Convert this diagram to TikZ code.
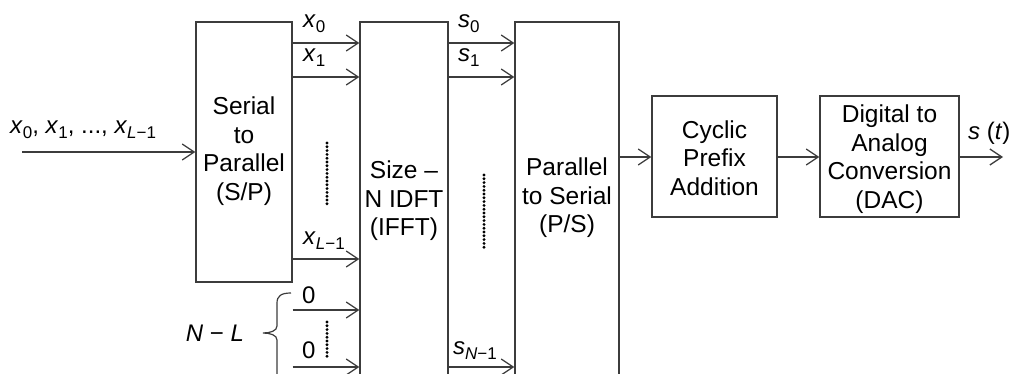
\documentclass[tikz,border=0pt]{standalone}
\usepackage{fontspec}
\setmainfont{Liberation Sans}
\usetikzlibrary{arrows.meta}
\definecolor{lc}{RGB}{60,60,60}
\newcommand{\subsc}[1]{\raisebox{-5pt}{\fontsize{17}{17}\selectfont #1}}
\begin{document}
\begin{tikzpicture}[x=1pt,y=-1pt,
  box/.style={draw=lc, line width=1.3pt, inner sep=0pt},
  txt/.style={font=\fontsize{24.5}{28.5}\selectfont, align=center, text=black, inner sep=0pt},
  lab/.style={font=\fontsize{24}{24}\selectfont, inner sep=0pt, anchor=base west, text=black},
  arr/.style={draw=lc, line width=1.3pt, -{Straight Barb[length=12pt,width=16pt,line width=1.3pt]}},
  dotl/.style={draw=black, line width=3.2pt, line cap=round, dash pattern=on 0pt off 3.8pt}]
\useasboundingbox (0,0) rectangle (1014,374);
\clip (0,0) rectangle (1014,374);
% boxes
\node[box, minimum width=96pt, minimum height=260pt] (sp) at (244,152) {};
\node[box, minimum width=88pt, minimum height=380pt] (idft) at (404,212) {};
\node[box, minimum width=104pt, minimum height=380pt] (ps) at (567,212) {};
\node[box, minimum width=125pt, minimum height=121pt] (cp) at (714.5,156.5) {};
\node[box, minimum width=139pt, minimum height=121pt] (dac) at (889.5,156.5) {};
% box texts
\node[txt] (spt) at (244,151) {Serial\\to\\Parallel\\(S/P)};
\node[txt] (idftt) at (404,201) {Size –\\N IDFT\\(IFFT)};
\node[txt] (pst) at (567,198) {Parallel\\to Serial\\(P/S)};
\node[txt] (cpt) at (714.5,158) {Cyclic\\Prefix\\Addition};
\node[txt] (dact) at (889.5,159) {Digital to\\Analog\\Conversion\\(DAC)};
% free ends
\coordinate (in) at (22,152);
\coordinate (out) at (1003,157);
% arrows
\draw[arr] (in) -- (sp.west |- in);
\draw[arr] (sp.east |- 0,43) -- (idft.west |- 0,43);
\draw[arr] (sp.east |- 0,77) -- (idft.west |- 0,77);
\draw[arr] (sp.east |- 0,259) -- (idft.west |- 0,259);
\draw[arr] (sp.east |- 0,310) -- (idft.west |- 0,310);
\draw[arr] (sp.east |- 0,367) -- (idft.west |- 0,367);
\draw[arr] (idft.east |- 0,43) -- (ps.west |- 0,43);
\draw[arr] (idft.east |- 0,77) -- (ps.west |- 0,77);
\draw[arr] (idft.east |- 0,367) -- (ps.west |- 0,367);
\draw[arr] (ps.east |- 0,157) -- (cp.west |- 0,157);
\draw[arr] (cp.east |- 0,157) -- (dac.west |- 0,157);
\draw[arr] (dac.east |- out) -- (out);
% labels
\node[lab] (inl) at (10,134) {\textit{x}\subsc{0}, \textit{x}\subsc{1}, ..., \textit{x}\subsc{\textit{L}−1}};
\node[lab] (lx0) at (303,28) {\textit{x}\subsc{0}};
\node[lab] (lx1) at (303,62) {\textit{x}\subsc{1}};
\node[lab] (lxl) at (303,244) {\textit{x}\subsc{\textit{L}−1}};
\node[lab] (z0) at (302,303) {0};
\node[lab] (z1) at (302,358) {0};
\node[lab] (ls0) at (458,28) {\textit{s}\subsc{0}};
\node[lab] (ls1) at (458,62) {\textit{s}\subsc{1}};
\node[lab] (lsn) at (453,354) {\textit{s}\subsc{\textit{N}−1}};
\node[lab] (lst) at (968,140) {\textit{s} (\textit{t})};
\node[lab, anchor=center] (nl) at (215,333) {\textit{N} − \textit{L}};
% dotted lines
\draw[dotl] (327,143) -- (327,207);
\draw[dotl] (327,322) -- (327,358);
\draw[dotl] (484,175) -- (484,250);
% brace
\draw[lc, line width=1.2pt] (291,293) .. controls (281,293) and (277,296) .. (277,303) -- (277,326) .. controls (277,331) and (270,333) .. (263,333) .. controls (270,333) and (277,335) .. (277,340) -- (277,380);
\end{tikzpicture}
\end{document}
